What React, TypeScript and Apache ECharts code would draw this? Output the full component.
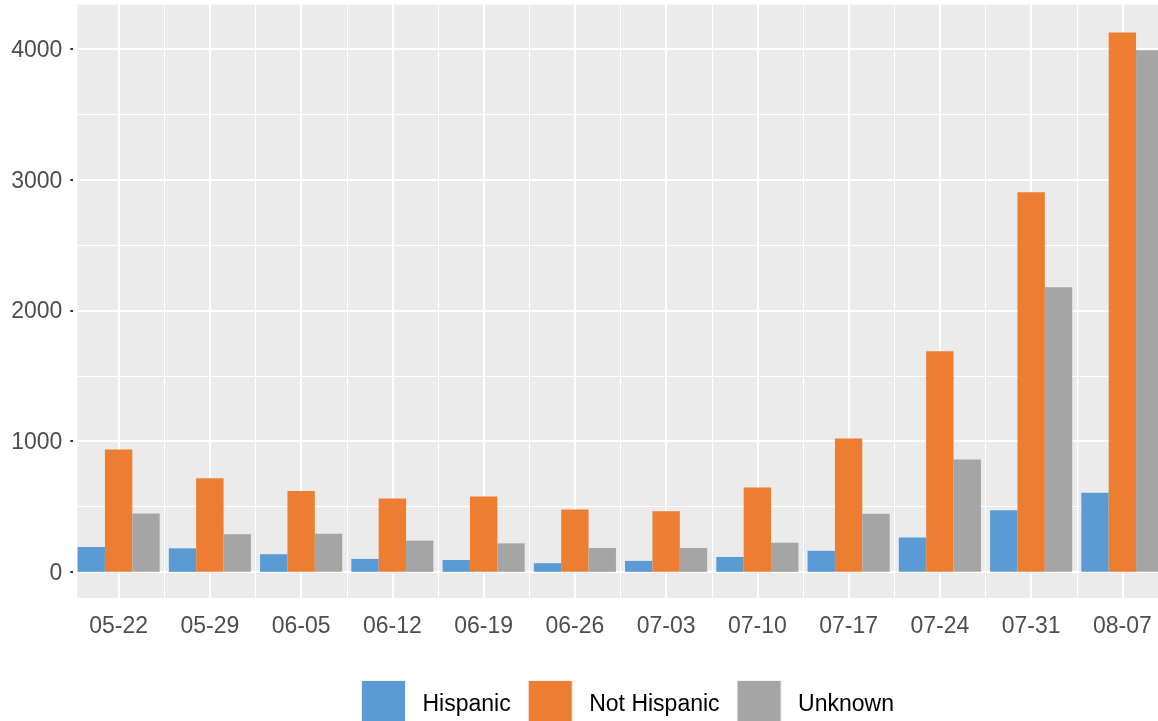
import React, { useEffect, useRef } from "react";
import * as echarts from "echarts";

const categories = ["05-22", "05-29", "06-05", "06-12", "06-19", "06-26", "07-03", "07-10", "07-17", "07-24", "07-31", "08-07"];
const hispanic = [190, 180, 135, 99, 91, 66, 84, 114, 161, 263, 471, 605];
const notHispanic = [937, 716, 619, 561, 576, 477, 464, 645, 1020, 1687, 2904, 4126];
const unknown = [447, 287, 292, 239, 218, 183, 183, 223, 444, 860, 2178, 3991];
const yTicks = [0, 1000, 2000, 3000, 4000];
const yMinor = [500, 1500, 2500, 3500];

const FONT = "'Liberation Sans', Arial, sans-serif";

export default function App() {
  const ref = useRef<HTMLDivElement>(null);
  useEffect(() => {
    document.body.style.overflow = "hidden";
    const chart = echarts.init(ref.current!, null, { renderer: "svg" });
    const gridLines = [
      ...yTicks.map((v) => ({ yAxis: v, lineStyle: { width: 2 } })),
      ...yMinor.map((v) => ({ yAxis: v, lineStyle: { width: 1 } })),
      ...categories.map((_, i) => ({ xAxis: i, lineStyle: { width: 2 } })),
    ];
    chart.setOption({
      animation: false,
      textStyle: { fontFamily: FONT },
      grid: { left: 73, right: 2, top: 4.6, bottom: 123, containLabel: false },
      graphic: [
        {
          type: "rect",
          z: -10,
          silent: true,
          shape: { x: 77.3, y: 4.6, width: 1100, height: 598 - 4.6 },
          style: { fill: "#EBEBEB" },
        },
      ],
      legend: {
        left: 361,
        top: 680,
        padding: 0,
        itemWidth: 44,
        itemHeight: 44,
        itemGap: 17,
        icon: "rect",
        data: ["Hispanic", "Not Hispanic", "Unknown"],
        itemStyle: { borderColor: "#F2F2F2", borderWidth: 1 },
        textStyle: { fontSize: 23, color: "#000", fontFamily: FONT, padding: [0, 0, 0, 12] },
      },
      xAxis: {
        type: "category",
        data: categories,
        boundaryGap: true,
        axisLine: { show: false },
        axisTick: { show: true, alignWithLabel: true, length: 7, lineStyle: { color: "#333", width: 2 } },
        axisLabel: { color: "#4D4D4D", fontSize: 23, margin: 15, fontFamily: FONT, interval: 0 },
        splitLine: { show: true, interval: 0, lineStyle: { color: "#fff", width: 1 } },
      },
      yAxis: {
        type: "value",
        min: -200,
        max: 4340,
        offset: -4.3,
        axisLine: { show: false },
        axisTick: { show: true, length: 7, customValues: yTicks, lineStyle: { color: "#333", width: 2 } },
        axisLabel: {
          color: "#4D4D4D",
          fontSize: 23,
          margin: 15,
          fontFamily: FONT,
          customValues: yTicks,
          formatter: (v: number) => String(v),
        },
        splitLine: { show: false },
      },
      series: [
        {
          type: "line",
          name: "grid",
          data: [],
          z: 1,
          silent: true,
          markLine: {
            z: 1,
            silent: true,
            symbol: "none",
            label: { show: false },
            lineStyle: { color: "#fff", type: "solid" },
            data: gridLines,
          },
        },
        {
          type: "bar",
          name: "Hispanic",
          data: hispanic,
          z: 3,
          barGap: "0%",
          barCategoryGap: "10%",
          itemStyle: { color: "#5B9BD5" },
        },
        {
          type: "bar",
          name: "Not Hispanic",
          data: notHispanic,
          z: 3,
          barGap: "0%",
          barCategoryGap: "10%",
          itemStyle: { color: "#ED7D31" },
        },
        {
          type: "bar",
          name: "Unknown",
          data: unknown,
          z: 3,
          barGap: "0%",
          barCategoryGap: "10%",
          itemStyle: { color: "#A5A5A5" },
        },
      ],
    });
    return () => chart.dispose();
  }, []);
  return (
    <div
      ref={ref}
      style={{ position: "fixed", left: 0, top: 0, width: 1170, height: 721 }}
    />
  );
}
